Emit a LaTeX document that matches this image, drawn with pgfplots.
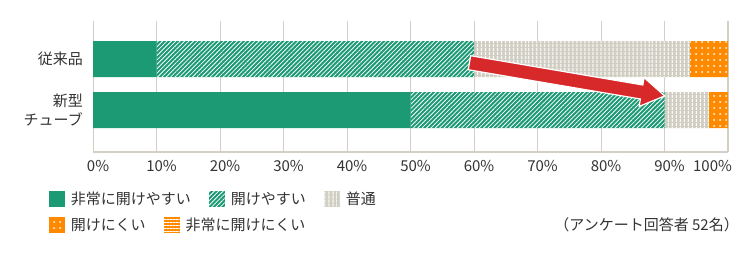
\documentclass[border=0pt]{standalone}
\usepackage{fontspec}
\setmainfont{Noto Sans CJK JP}
\usepackage{pgfplots}
\pgfplotsset{compat=1.18}
\usetikzlibrary{patterns.meta, shapes.arrows}
\definecolor{cgreen}{HTML}{1B9A74}
\definecolor{cgray}{HTML}{D0CDC2}
\definecolor{corange}{HTML}{FF8A00}
\definecolor{cred}{HTML}{D7282A}
\definecolor{cgrid}{HTML}{D3CFC6}
\definecolor{ctext}{HTML}{333333}
\tikzset{
  s1/.style={fill=cgreen, draw=none},
  s2/.style={fill=cgreen, draw=none, postaction={pattern={Lines[angle=45,distance=3.1pt,line width=0.8pt]}, pattern color=white}},
  s3/.style={fill=cgray, draw=none, postaction={pattern={Lines[angle=90,distance=4pt,line width=1.1pt]}, pattern color=white}},
  s4/.style={fill=corange, draw=none, postaction={pattern={Dots[distance=6pt,radius=1pt]}, pattern color=white}},
  s5/.style={fill=corange, draw=none, postaction={pattern={Lines[angle=0,distance=3pt,line width=0.9pt]}, pattern color=white}},
}
\newcommand{\fs}{\fontsize{15pt}{19pt}\selectfont}
\pgfplotsset{
  mylegend/.style={
    legend cell align=left,
    legend columns=-1,
    legend style={draw=none, fill=none, inner sep=0pt, outer sep=0pt,
      font=\fs, text=ctext, nodes={inner sep=0pt},
      /tikz/every odd column/.style={column sep=6pt},
      /tikz/every even column/.style={column sep=18pt}},
    legend image code/.code={\path[##1] (0pt,-8pt) rectangle (16pt,8pt);},
  }
}
\begin{document}
\begin{tikzpicture}
\useasboundingbox (0,0) rectangle (750pt,-252pt);
\begin{axis}[
  scale only axis, width=635pt, height=131pt,
  at={(93pt,-152pt)}, anchor=south west,
  xbar stacked, bar width=0.706,
  xmin=0, xmax=100, ymin=-0.82, ymax=1.745,
  ytick={0,1}, yticklabels={{新型\\チューブ},{従来品}},
  yticklabel style={align=right, font=\fs, text=ctext, inner sep=0pt, xshift=-10pt},
  xtick={0,10,...,90},
  xticklabels={0\%,10\%,20\%,30\%,40\%,50\%,60\%,70\%,80\%,90\%},
  xticklabel style={font=\fs, text=ctext, anchor=north, inner sep=0pt, yshift=-8pt, xshift=5pt},
  extra x ticks={100}, extra x tick labels={100\%},
  extra x tick style={grid style={cgrid, line width=2pt}, xticklabel style={xshift=-20.5pt}},
  xmajorgrids, grid style={cgrid, line width=1pt},
  major tick length=0pt,
  axis line style={draw=none},
  mylegend,
  legend style={at={(-0.0693,-0.2977)}, anchor=north west},
]
\addplot[s1] coordinates {(50,0) (10,1)};
\addlegendentry{非常に開けやすい}
\addplot[s2] coordinates {(40,0) (50,1)};
\addlegendentry{開けやすい}
\addplot[s3] coordinates {(7,0) (34,1)};
\addlegendentry{普通}
\addplot[s4, forget plot] coordinates {(3,0) (6,1)};
\draw[cgrid, line width=2pt] (rel axis cs:0,1) -- (rel axis cs:0,0) -- (rel axis cs:1,0);
\end{axis}
\begin{axis}[
  scale only axis, width=635pt, height=131pt,
  at={(93pt,-152pt)}, anchor=south west,
  hide axis, xmin=0, xmax=100, ymin=-0.82, ymax=1.745,
  clip=false,
  mylegend,
  legend style={at={(-0.0693,-0.496)}, anchor=north west},
]
\addlegendimage{s4}
\addlegendentry{開けにくい}
\addlegendimage{s5}
\addlegendentry{非常に開けにくい}
\node[single arrow, draw=white, line width=1.2pt, fill=cred,
  minimum height=198pt, inner xsep=0pt, inner ysep=6.5pt,
  single arrow head extend=7.5pt, single arrow tip angle=64,
  rotate=-9.65, anchor=tip] at (axis cs:90.2,0.2745) {};
\end{axis}
\node[anchor=east, font=\fs, text=ctext, inner sep=0pt] at (739pt,-225pt) {（アンケート回答者 52名）};
\end{tikzpicture}
\end{document}
